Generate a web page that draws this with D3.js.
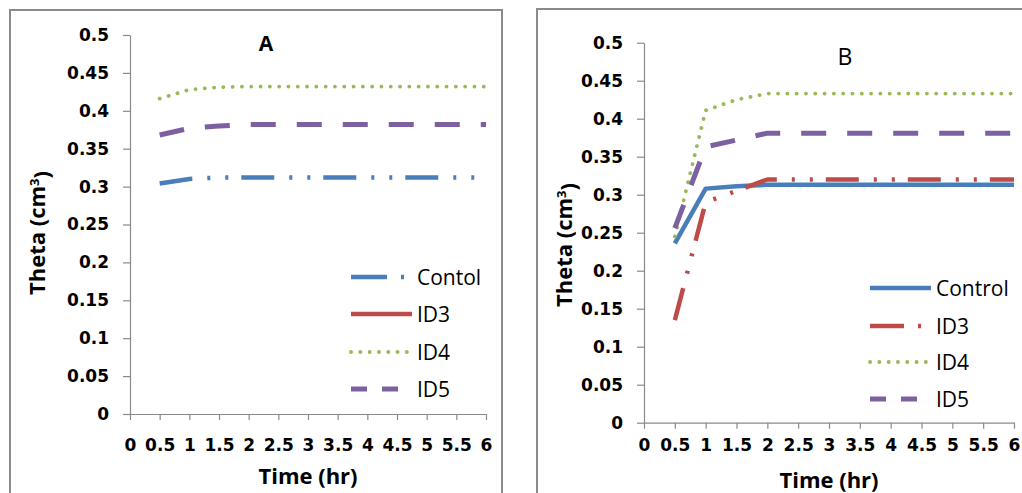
<!DOCTYPE html>
<html>
<head>
<meta charset="utf-8">
<script src="https://cdn.jsdelivr.net/npm/d3@7/dist/d3.min.js"></script>
<style>
  body { margin: 0; background: #fff; }
  svg { display: block; font-family: "Open Sans", sans-serif; }
</style>
</head>
<body>
<div class="static-image"></div>
<script>
// time points (hr)
var times = [0.5, 1, 1.5, 2, 2.5, 3, 3.5, 4, 4.5, 5, 5.5, 6];
var xTicks = [0, 0.5, 1, 1.5, 2, 2.5, 3, 3.5, 4, 4.5, 5, 5.5, 6];
var yTicks = [0, 0.05, 0.1, 0.15, 0.2, 0.25, 0.3, 0.35, 0.4, 0.45, 0.5];
var seriesNames = ["Control", "ID3", "ID4", "ID5"];

// panel A values (ID3 not plotted in A)
var aControl = [0.304, 0.310, 0.312, 0.312, 0.312, 0.312, 0.312, 0.312, 0.312, 0.312, 0.312, 0.312];
var aID3 = [];
var aID4 = [0.416, 0.428, 0.431, 0.432, 0.432, 0.432, 0.432, 0.432, 0.432, 0.432, 0.432, 0.432];
var aID5 = [0.368, 0.377, 0.380, 0.382, 0.382, 0.382, 0.382, 0.382, 0.382, 0.382, 0.382, 0.382];

// panel B values
var bControl = [0.236, 0.308, 0.311, 0.313, 0.313, 0.313, 0.313, 0.313, 0.313, 0.313, 0.313, 0.313];
var bID3 = [0.135, 0.290, 0.305, 0.320, 0.320, 0.320, 0.320, 0.320, 0.320, 0.320, 0.320, 0.320];
var bID4 = [0.245, 0.411, 0.425, 0.433, 0.433, 0.433, 0.433, 0.433, 0.433, 0.433, 0.433, 0.433];
var bID5 = [0.256, 0.363, 0.372, 0.381, 0.381, 0.381, 0.381, 0.381, 0.381, 0.381, 0.381, 0.381];

var width = 1022;
var height = 493;
var tickFont = "'DejaVu Sans', sans-serif";

var colors = { "Control": "#4a7ebb", "ID3": "#be4b48", "ID4": "#98b954", "ID5": "#7d60a0" };
var dashDotDot = "33,15,3,15,3,13";
var dotted = { "width": 3.8, "dash": "0.1,9.2", "cap": "round" };
var dashed = { "width": 5, "dash": "25,21", "cap": "butt" };

var panels = [
    {
        "box": [10, 10, 492, 500],
        "x0": 130, "x1": 486, "y0": 414, "y1": 35,
        "title": "A", "titleX": 266, "titleY": 51, "titleWeight": "bold", "titleSize": 21,
        "yLabelX": 37, "yLabelY": 233,
        "xLabelY": 484, "xPad": 19, "yPad": 14,
        "legendX": 351, "legendLen": 61, "legendY": [277, 314, 352, 389],
        "names": ["Contol", "ID3", "ID4", "ID5"],
        "data": { "Control": aControl, "ID3": aID3, "ID4": aID4, "ID5": aID5 },
        "styles": {
            "Control": { "width": 4.5, "dash": dashDotDot, "cap": "butt" },
            "ID3": { "width": 4.5, "dash": null, "cap": "butt" },
            "ID4": dotted, "ID5": dashed
        },
        "legendDash": { "Control": "36,14,3,20", "ID3": null, "ID4": "0.1,9.2", "ID5": "16,15" }
    },
    {
        "box": [537, 9, 500, 500],
        "x0": 644, "x1": 1014, "y0": 422.7, "y1": 42.7,
        "title": "B", "titleX": 845, "titleY": 65, "titleWeight": "normal", "titleSize": 23,
        "yLabelX": 564, "yLabelY": 245,
        "xLabelY": 488, "xPad": 10, "yPad": 14,
        "legendX": 870, "legendLen": 61, "legendY": [288, 326, 362, 399],
        "names": ["Control", "ID3", "ID4", "ID5"],
        "data": { "Control": bControl, "ID3": bID3, "ID4": bID4, "ID5": bID5 },
        "styles": {
            "Control": { "width": 4.5, "dash": null, "cap": "butt" },
            "ID3": { "width": 4.5, "dash": dashDotDot, "cap": "butt" },
            "ID4": dotted, "ID5": dashed
        },
        "legendDash": { "Control": null, "ID3": "34,14,3,20", "ID4": "0.1,9.2", "ID5": "16,15" }
    }
];

var svg = d3.select(".static-image")
    .append("svg")
    .attr("width", width)
    .attr("height", height);

panels.forEach(drawPanel);

function drawPanel(p) {
    var g = svg.append("g");

    g.append("rect")
        .attr("x", p.box[0])
        .attr("y", p.box[1])
        .attr("width", p.box[2])
        .attr("height", p.box[3])
        .attr("fill", "none")
        .attr("stroke", "#8a8a8a")
        .attr("stroke-width", 2);

    var x = d3.scaleLinear().domain([0, 6]).range([p.x0, p.x1]);
    var y = d3.scaleLinear().domain([0, 0.5]).range([p.y0, p.y1]);

    var xAxis = g.append("g")
        .attr("transform", "translate(0," + p.y0 + ")")
        .call(d3.axisBottom(x)
            .tickValues(xTicks)
            .tickFormat(d3.format("~g"))
            .tickSize(6)
            .tickSizeOuter(0)
            .tickPadding(p.xPad));

    var yAxis = g.append("g")
        .attr("transform", "translate(" + p.x0 + ",0)")
        .call(d3.axisLeft(y)
            .tickValues(yTicks)
            .tickFormat(d3.format("~g"))
            .tickSize(7)
            .tickSizeOuter(0)
            .tickPadding(p.yPad));

    [xAxis, yAxis].forEach(function (a) {
        a.attr("font-family", tickFont);
        a.selectAll("path, line").attr("stroke", "#8a8a8a").attr("stroke-width", 1.2);
        a.selectAll("text")
            .attr("fill", "#000")
            .style("font-family", tickFont)
            .style("font-size", "17px")
            .style("font-weight", "bold");
    });

    // data lines
    var line = d3.line()
        .x(function (d, i) { return x(times[i]); })
        .y(function (d) { return y(d); });

    seriesNames.forEach(function (name) {
        var vals = p.data[name];
        if (!vals.length) return;
        var st = p.styles[name];
        g.append("path")
            .datum(vals)
            .attr("d", line)
            .attr("fill", "none")
            .attr("stroke", colors[name])
            .attr("stroke-width", st.width)
            .attr("stroke-dasharray", st.dash)
            .attr("stroke-linecap", st.cap)
            .attr("stroke-linejoin", "round");
    });

    // legend
    seriesNames.forEach(function (name, i) {
        var st = p.styles[name];
        var ly = p.legendY[i];
        g.append("line")
            .attr("x1", p.legendX)
            .attr("x2", p.legendX + p.legendLen)
            .attr("y1", ly)
            .attr("y2", ly)
            .attr("stroke", colors[name])
            .attr("stroke-width", st.width)
            .attr("stroke-dasharray", p.legendDash[name])
            .attr("stroke-linecap", st.cap);
        g.append("text")
            .attr("x", p.legendX + p.legendLen + 5)
            .attr("y", ly)
            .attr("dy", "0.36em")
            .style("font-size", "21px")
            .text(p.names[i]);
    });

    // titles
    g.append("text")
        .attr("x", p.titleX)
        .attr("y", p.titleY)
        .attr("text-anchor", "middle")
        .style("font-size", p.titleSize + "px")
        .style("font-weight", p.titleWeight)
        .text(p.title);

    g.append("text")
        .attr("x", (p.x0 + p.x1) / 2)
        .attr("y", p.xLabelY)
        .attr("text-anchor", "middle")
        .style("font-size", "22px")
        .style("font-weight", "bold")
        .text("Time (hr)");

    var yl = g.append("text")
        .attr("transform", "translate(" + p.yLabelX + "," + p.yLabelY + ") rotate(-90)")
        .attr("text-anchor", "middle")
        .attr("dy", "0.36em")
        .style("font-size", "22px")
        .style("font-weight", "bold");
    yl.append("tspan").text("Theta (cm");
    yl.append("tspan").attr("dy", "-0.45em").style("font-size", "13px").text("3");
    yl.append("tspan").attr("dy", "0.45em").text(")");
}
</script>
</body>
</html>
